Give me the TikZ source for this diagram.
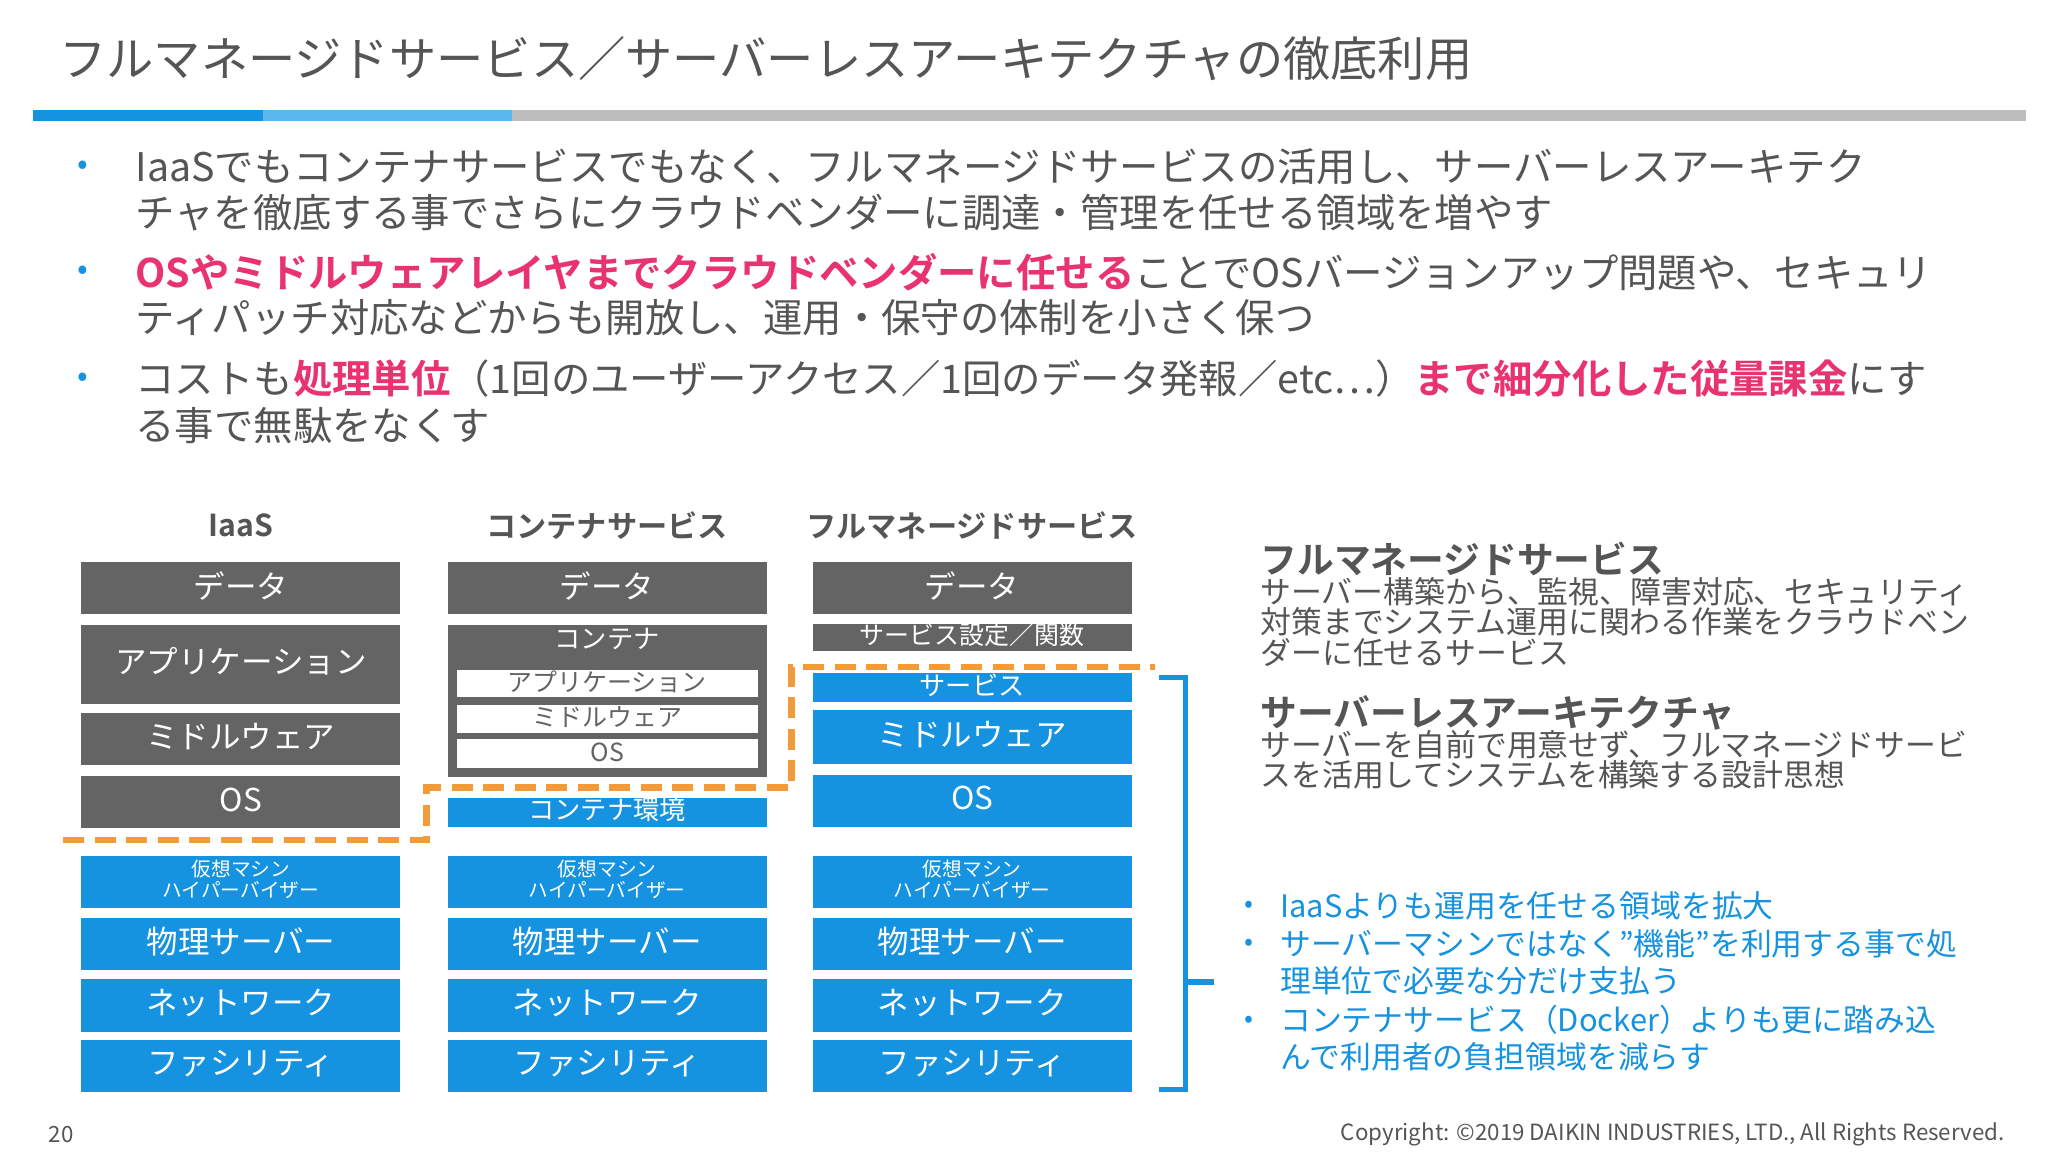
\documentclass[tikz,border=0pt]{standalone}
\usepackage{fontspec}
\setmainfont{Noto Sans CJK JP}
\newfontfamily\jpb{Noto Sans CJK JP Bold}
\definecolor{tg}{HTML}{555555}
\definecolor{bx}{HTML}{646464}
\definecolor{bl}{HTML}{1592E0}
\definecolor{og}{HTML}{F39A3A}
\definecolor{pk}{HTML}{E8336F}
\definecolor{lb}{HTML}{5BB8EE}
\definecolor{gl}{HTML}{BDBDBD}
\begin{document}
\begin{tikzpicture}[x=1pt,y=-1pt,
 txt/.style={anchor=west,inner sep=0,text=tg},
 bul/.style={txt,font=\fontsize{30}{30}\selectfont},
 rt/.style={txt,font=\fontsize{23.5}{24}\selectfont},
 bb/.style={txt,text=bl,font=\fontsize{23.5}{24}\selectfont},
 lbl/.style={text=white,inner sep=0}]
\path[use as bounding box,fill=white] (0,0) rectangle (1560,877.5);
\node[txt,font=\fontsize{36}{36}\selectfont] (title) at (45,45) {フルマネージドサービス／サーバーレスアーキテクチャの徹底利用};
\fill[bl] (25,84) rectangle (200,92);
\fill[lb] (200,84) rectangle (390,92);
\fill[gl] (390,84) rectangle (1543,92);
% bullets
\foreach \y in {128,208,289} \node[text=bl,font=\fontsize{24}{24}\selectfont] at (63,\y) {•};
\node[bul] (b1a) at (103,127) {IaaSでもコンテナサービスでもなく、フルマネージドサービスの活用し、サーバーレスアーキテク};
\node[bul] (b1b) at (103,162) {チャを徹底する事でさらにクラウドベンダーに調達・管理を任せる領域を増やす};
\node[bul] (b2a) at (103,207) {{\jpb\color{pk}OSやミドルウェアレイヤまでクラウドベンダーに任せる}ことでOSバージョンアップ問題や、セキュリ};
\node[bul] (b2b) at (103,242) {ティパッチ対応などからも開放し、運用・保守の体制を小さく保つ};
\node[bul] (b3a) at (103,288) {コストも{\jpb\color{pk}処理単位}（1回のユーザーアクセス／1回のデータ発報／etc…）{\jpb\color{pk}まで細分化した従量課金}にす};
\node[bul] (b3b) at (103,324) {る事で無駄をなくす};
% column headers
\node[text=tg,font=\jpb\fontsize{23}{24}\selectfont] (h1) at (183.5,400) {IaaS};
\node[text=tg,font=\jpb\fontsize{23}{24}\selectfont] (h2) at (462.5,400) {コンテナサービス};
\node[text=tg,font=\jpb\fontsize{23}{24}\selectfont] (h3) at (740.5,400) {フルマネージドサービス};
\newcommand\blk[6]{\fill[#5] (#1,#2) rectangle (#1+243,#3); \node[lbl,font=\fontsize{#6}{#6}\selectfont] at (#1+121.5,{(#2+#3)/2-2}) {#4};}
% IaaS
\blk{62}{428}{468}{データ}{bx}{24}
\blk{62}{476}{536}{アプリケーション}{bx}{24}
\blk{62}{543}{583}{ミドルウェア}{bx}{24}
\blk{62}{591}{631}{OS}{bx}{24}
% container
\blk{341}{428}{468}{データ}{bx}{24}
\fill[bx] (341,476) rectangle (584,592);
\node[lbl,font=\fontsize{20}{20}\selectfont] at (462.5,487) {コンテナ};
\foreach \a/\b/\t in {510/531/アプリケーション,537/558/ミドルウェア,563/585/OS}{
 \fill[white] (348,\a) rectangle (577,\b);
 \node[inner sep=0,text=bx,font=\fontsize{19}{19}\selectfont] at (462.5,{(\a+\b)/2-1}) {\t};}
\blk{341}{608}{630}{コンテナ環境}{bl}{20}
% full managed
\blk{619}{428}{468}{データ}{bx}{24}
\blk{619}{475}{496}{サービス設定／関数}{bx}{19}
\blk{619}{513}{535}{サービス}{bl}{20}
\blk{619}{541}{582}{ミドルウェア}{bl}{24}
\blk{619}{590}{630}{OS}{bl}{24}
\foreach \x in {62,341,619}{
 \fill[bl] (\x,652) rectangle (\x+243,692);
 \node[lbl,font=\fontsize{15}{16}\selectfont,align=center] at (\x+121.5,670) {仮想マシン\\ハイパーバイザー};
 \blk{\x}{699}{739}{物理サーバー}{bl}{24}
 \blk{\x}{746}{786}{ネットワーク}{bl}{24}
 \blk{\x}{792}{832}{ファシリティ}{bl}{24}}
% dashed line
\coordinate (d1) at (48,640); \coordinate (d2) at (325,640); \coordinate (d3) at (325,600);
\coordinate (d4) at (603,600); \coordinate (d5) at (603,508); \coordinate (d6) at (880,508);
\draw[og,line width=5,dash pattern=on 16 off 8] (d1)--(d2)--(d3)--(d4)--(d5)--(d6);
% bracket
\coordinate (k1) at (883,516); \coordinate (k2) at (903,516); \coordinate (k3) at (903,830);
\coordinate (k4) at (883,830); \coordinate (k5) at (925,748); \coordinate (k6) at (903,748);
\draw[bl,line width=4] (k1)--(k2)--(k3)--(k4); \draw[bl,line width=4] (k6)--(k5);
% right texts
\node[txt,font=\jpb\fontsize{28}{28}\selectfont] (r1) at (960,426) {フルマネージドサービス};
\node[rt] at (960,451) {サーバー構築から、監視、障害対応、セキュリティ};
\node[rt] at (960,474) {対策までシステム運用に関わる作業をクラウドベン};
\node[rt] at (960,497) {ダーに任せるサービス};
\node[txt,font=\jpb\fontsize{28}{28}\selectfont] (r2) at (960,543) {サーバーレスアーキテクチャ};
\node[rt] at (960,567) {サーバーを自前で用意せず、フルマネージドサービ};
\node[rt] at (960,590) {スを活用してシステムを構築する設計思想};
\foreach \y in {691,720,778} \node[text=bl,font=\fontsize{20}{20}\selectfont] at (951,\y) {•};
\node[bb] at (975,690) {IaaSよりも運用を任せる領域を拡大};
\node[bb] at (975,719) {サーバーマシンではなく”機能”を利用する事で処};
\node[bb] at (975,747) {理単位で必要な分だけ支払う};
\node[bb] at (975,777) {コンテナサービス（Docker）よりも更に踏み込};
\node[bb] at (975,805) {んで利用者の負担領域を減らす};
% footer
\node[txt,font=\fontsize{17}{17}\selectfont] (pg) at (37,864) {20};
\node[txt,anchor=east,font=\fontsize{17}{17}\selectfont] (cp) at (1527,864) {Copyright: ©2019 DAIKIN INDUSTRIES, LTD., All Rights Reserved.};
\end{tikzpicture}
\end{document}
